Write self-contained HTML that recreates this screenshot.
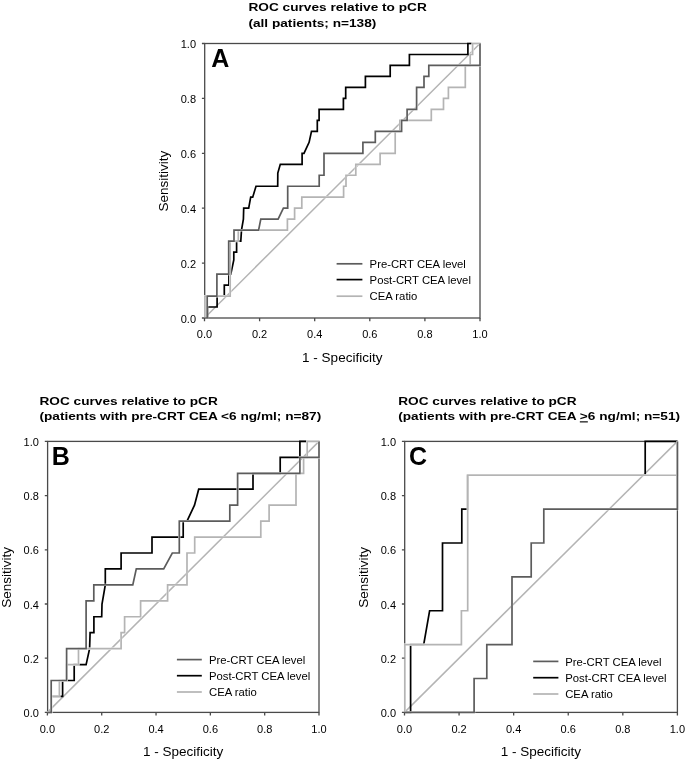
<!DOCTYPE html>
<html><head><meta charset="utf-8"><title>ROC curves</title><style>
html,body{margin:0;padding:0;background:#fff;overflow:hidden;width:685px;height:759px;}
svg{display:block;will-change:transform;}
text{font-family:"Liberation Sans", sans-serif;}
</style></head><body>
<svg width="685" height="759" viewBox="0 0 685 759">
<rect x="0" y="0" width="685" height="759" fill="#fff"/>
<g id="plotA">
<g transform="translate(248.4,0) scale(1.199,1)" font-weight="bold" font-size="11.4" fill="#000"><text x="0" y="11.0">ROC curves relative to pCR</text><text x="0" y="26.6">(all patients; n=138)</text></g>
<rect x="204.70" y="43.50" width="275.30" height="274.50" fill="none" stroke="#4a4a4a" stroke-width="1.3"/>
<g font-size="11" fill="#000"><text x="196.00" y="322.50" text-anchor="end">0.0</text><text x="204.50" y="338.10" text-anchor="middle">0.0</text><text x="196.00" y="267.60" text-anchor="end">0.2</text><text x="259.60" y="338.10" text-anchor="middle">0.2</text><text x="196.00" y="212.70" text-anchor="end">0.4</text><text x="314.70" y="338.10" text-anchor="middle">0.4</text><text x="196.00" y="157.80" text-anchor="end">0.6</text><text x="369.80" y="338.10" text-anchor="middle">0.6</text><text x="196.00" y="102.90" text-anchor="end">0.8</text><text x="424.90" y="338.10" text-anchor="middle">0.8</text><text x="196.00" y="48.00" text-anchor="end">1.0</text><text x="480.00" y="338.10" text-anchor="middle">1.0</text></g>
<text x="342.25" y="361.60" text-anchor="middle" font-size="13.5" fill="#000">1 - Specificity</text>
<text transform="translate(167.90,181.15) rotate(-90)" x="0" y="0" text-anchor="middle" font-size="13.5" fill="#000">Sensitivity</text>
<path d="M204.5,318.0L480.0,43.5" stroke="#b4b4b4" stroke-width="1.5" fill="none"/>
<polyline points="204.50,318.00 207.50,318.00 207.50,307.02 217.10,307.02 217.10,296.04 224.30,296.04 224.30,285.06 228.90,285.06 228.90,274.08 230.80,274.08 233.80,259.81 233.80,252.12 236.60,252.12 236.60,241.14 240.80,241.14 241.50,230.16 243.40,219.18 243.70,208.20 248.70,208.20 250.70,197.22 252.70,197.22 256.00,186.24 277.70,186.24 277.80,173.06 280.30,164.28 302.10,164.28 302.10,153.30 304.00,153.30 305.00,151.10 309.10,142.32 311.50,131.34 317.30,131.34 317.30,120.36 319.10,120.36 319.10,109.38 343.40,109.38 343.40,98.40 345.70,98.40 345.70,87.42 365.40,87.42 365.40,76.44 390.20,76.44 390.20,65.46 409.40,65.46 409.40,54.48 467.90,54.48 467.90,43.50 471.60,43.50" fill="none" stroke="#000" stroke-width="1.7" stroke-linejoin="miter"/>
<polyline points="204.50,318.00 204.90,318.00 204.90,296.04 230.20,296.04 230.20,241.14 238.30,241.14 238.30,230.16 287.40,230.16 287.40,219.18 294.60,219.18 294.60,208.20 301.80,208.20 301.80,197.22 343.60,197.22 343.60,186.24 346.00,186.24 346.00,175.26 355.80,175.26 355.80,164.28 380.10,164.28 380.10,153.30 395.20,153.30 395.20,131.34 399.90,131.34 399.90,120.36 431.30,120.36 431.30,109.38 443.50,109.38 443.50,98.40 448.40,98.40 448.40,87.42 465.30,87.42 465.30,65.46 470.20,65.46 470.20,54.48 472.60,54.48 472.60,43.50 480.00,43.50" fill="none" stroke="#fff" stroke-width="2.2" stroke-linejoin="miter"/>
<polyline points="204.50,318.00 204.90,318.00 204.90,296.04 230.20,296.04 230.20,241.14 238.30,241.14 238.30,230.16 287.40,230.16 287.40,219.18 294.60,219.18 294.60,208.20 301.80,208.20 301.80,197.22 343.60,197.22 343.60,186.24 346.00,186.24 346.00,175.26 355.80,175.26 355.80,164.28 380.10,164.28 380.10,153.30 395.20,153.30 395.20,131.34 399.90,131.34 399.90,120.36 431.30,120.36 431.30,109.38 443.50,109.38 443.50,98.40 448.40,98.40 448.40,87.42 465.30,87.42 465.30,65.46 470.20,65.46 470.20,54.48 472.60,54.48 472.60,43.50 480.00,43.50" fill="none" stroke="#b4b4b4" stroke-width="1.7" stroke-linejoin="miter"/>
<polyline points="204.50,318.00 207.20,318.00 207.20,296.04 216.90,296.04 216.90,274.08 228.70,274.08 228.70,241.14 234.00,241.14 234.00,230.16 258.60,230.16 260.80,219.18 278.10,219.18 283.40,208.20 287.70,208.20 287.70,186.24 319.20,186.24 319.20,175.26 324.00,175.26 324.00,153.30 362.90,153.30 362.90,142.32 375.30,142.32 375.30,131.34 401.60,131.34 401.60,120.36 407.10,120.36 407.10,109.38 416.60,109.38 416.60,87.42 424.00,87.42 424.00,76.44 428.80,76.44 428.80,65.46 480.00,65.46 480.00,43.50" fill="none" stroke="#fff" stroke-width="2.2" stroke-linejoin="miter"/>
<polyline points="204.50,318.00 207.20,318.00 207.20,296.04 216.90,296.04 216.90,274.08 228.70,274.08 228.70,241.14 234.00,241.14 234.00,230.16 258.60,230.16 260.80,219.18 278.10,219.18 283.40,208.20 287.70,208.20 287.70,186.24 319.20,186.24 319.20,175.26 324.00,175.26 324.00,153.30 362.90,153.30 362.90,142.32 375.30,142.32 375.30,131.34 401.60,131.34 401.60,120.36 407.10,120.36 407.10,109.38 416.60,109.38 416.60,87.42 424.00,87.42 424.00,76.44 428.80,76.44 428.80,65.46 480.00,65.46 480.00,43.50" fill="none" stroke="#5c5c5c" stroke-width="1.7" stroke-linejoin="miter"/>
<path d="M201.90,318.00H204.50M204.50,318.00V321.20M201.90,263.10H204.50M259.60,318.00V321.20M201.90,208.20H204.50M314.70,318.00V321.20M201.90,153.30H204.50M369.80,318.00V321.20M201.90,98.40H204.50M424.90,318.00V321.20M201.90,43.50H204.50M480.00,318.00V321.20" stroke="#4a4a4a" stroke-width="1.3" fill="none"/>
<text x="211.20" y="67.00" font-size="25" font-weight="bold" fill="#000">A</text>
<path d="M336.6,263.8H362.4" stroke="#5c5c5c" stroke-width="1.7"/>
<text x="369.6" y="267.8" font-size="11.3" fill="#000">Pre-CRT CEA level</text>
<path d="M336.6,279.6H362.4" stroke="#000" stroke-width="1.7"/>
<text x="369.6" y="284.0" font-size="11.3" fill="#000">Post-CRT CEA level</text>
<path d="M336.6,296.2H362.4" stroke="#b4b4b4" stroke-width="1.7"/>
<text x="369.6" y="300.4" font-size="11.3" fill="#000">CEA ratio</text>
</g>
<g id="plotB">
<g transform="translate(39.4,0) scale(1.199,1)" font-weight="bold" font-size="11.4" fill="#000"><text x="0" y="405.0">ROC curves relative to pCR</text><text x="0" y="420.4">(patients with pre-CRT CEA &lt;6 ng/ml; n=87)</text></g>
<rect x="47.60" y="441.40" width="271.40" height="271.00" fill="none" stroke="#4a4a4a" stroke-width="1.3"/>
<g font-size="11" fill="#000"><text x="38.90" y="716.90" text-anchor="end">0.0</text><text x="47.40" y="732.50" text-anchor="middle">0.0</text><text x="38.90" y="662.70" text-anchor="end">0.2</text><text x="101.72" y="732.50" text-anchor="middle">0.2</text><text x="38.90" y="608.50" text-anchor="end">0.4</text><text x="156.04" y="732.50" text-anchor="middle">0.4</text><text x="38.90" y="554.30" text-anchor="end">0.6</text><text x="210.36" y="732.50" text-anchor="middle">0.6</text><text x="38.90" y="500.10" text-anchor="end">0.8</text><text x="264.68" y="732.50" text-anchor="middle">0.8</text><text x="38.90" y="445.90" text-anchor="end">1.0</text><text x="319.00" y="732.50" text-anchor="middle">1.0</text></g>
<text x="183.20" y="756.00" text-anchor="middle" font-size="13.5" fill="#000">1 - Specificity</text>
<text transform="translate(10.80,577.30) rotate(-90)" x="0" y="0" text-anchor="middle" font-size="13.5" fill="#000">Sensitivity</text>
<path d="M47.4,712.4L319.0,441.4" stroke="#b4b4b4" stroke-width="1.5" fill="none"/>
<polyline points="47.40,712.40 51.20,712.40 51.20,696.46 62.60,696.46 62.60,680.52 74.20,680.52 74.20,664.58 86.10,664.58 89.60,648.64 90.10,632.69 93.90,632.69 93.90,616.75 101.70,616.75 102.00,604.00 105.30,584.87 105.30,568.93 121.10,568.93 121.10,552.99 152.00,552.99 152.00,537.05 183.20,537.05 183.20,521.11 187.00,521.11 194.50,505.16 198.70,489.22 253.00,489.22 253.00,473.28 280.20,473.28 280.20,457.34 299.90,457.34 299.90,441.40 306.40,441.40" fill="none" stroke="#000" stroke-width="1.7" stroke-linejoin="miter"/>
<polyline points="47.40,712.40 51.20,712.40 51.20,696.46 59.40,696.46 59.40,680.52 66.60,680.52 66.60,664.58 78.50,664.58 78.50,648.64 121.10,648.64 121.10,632.69 124.60,632.69 124.60,616.75 140.60,616.75 140.60,600.81 167.60,600.81 167.60,584.87 187.00,584.87 187.00,552.99 194.70,552.99 194.70,537.05 260.80,537.05 260.80,521.11 269.10,521.11 269.10,505.16 296.00,505.16 296.00,473.28 303.60,473.28 303.60,457.34 307.20,457.34 307.20,441.40 319.00,441.40" fill="none" stroke="#fff" stroke-width="2.2" stroke-linejoin="miter"/>
<polyline points="47.40,712.40 51.20,712.40 51.20,696.46 59.40,696.46 59.40,680.52 66.60,680.52 66.60,664.58 78.50,664.58 78.50,648.64 121.10,648.64 121.10,632.69 124.60,632.69 124.60,616.75 140.60,616.75 140.60,600.81 167.60,600.81 167.60,584.87 187.00,584.87 187.00,552.99 194.70,552.99 194.70,537.05 260.80,537.05 260.80,521.11 269.10,521.11 269.10,505.16 296.00,505.16 296.00,473.28 303.60,473.28 303.60,457.34 307.20,457.34 307.20,441.40 319.00,441.40" fill="none" stroke="#b4b4b4" stroke-width="1.7" stroke-linejoin="miter"/>
<polyline points="47.40,712.40 51.20,712.40 51.20,680.52 66.60,680.52 66.60,648.64 86.10,648.64 86.10,600.81 93.80,600.81 93.80,584.87 132.80,584.87 136.30,568.93 163.70,568.93 172.30,552.99 179.30,552.99 179.30,521.11 229.80,521.11 229.80,505.16 237.60,505.16 237.60,473.28 299.90,473.28 299.90,457.34 319.00,457.34 319.00,441.40" fill="none" stroke="#fff" stroke-width="2.2" stroke-linejoin="miter"/>
<polyline points="47.40,712.40 51.20,712.40 51.20,680.52 66.60,680.52 66.60,648.64 86.10,648.64 86.10,600.81 93.80,600.81 93.80,584.87 132.80,584.87 136.30,568.93 163.70,568.93 172.30,552.99 179.30,552.99 179.30,521.11 229.80,521.11 229.80,505.16 237.60,505.16 237.60,473.28 299.90,473.28 299.90,457.34 319.00,457.34 319.00,441.40" fill="none" stroke="#5c5c5c" stroke-width="1.7" stroke-linejoin="miter"/>
<path d="M44.80,712.40H47.40M47.40,712.40V715.60M44.80,658.20H47.40M101.72,712.40V715.60M44.80,604.00H47.40M156.04,712.40V715.60M44.80,549.80H47.40M210.36,712.40V715.60M44.80,495.60H47.40M264.68,712.40V715.60M44.80,441.40H47.40M319.00,712.40V715.60" stroke="#4a4a4a" stroke-width="1.3" fill="none"/>
<text x="51.70" y="464.90" font-size="25" font-weight="bold" fill="#000">B</text>
<path d="M176.9,659.6H201.8" stroke="#5c5c5c" stroke-width="1.7"/>
<text x="209.0" y="663.7" font-size="11.3" fill="#000">Pre-CRT CEA level</text>
<path d="M176.9,675.7H201.8" stroke="#000" stroke-width="1.7"/>
<text x="209.0" y="679.7" font-size="11.3" fill="#000">Post-CRT CEA level</text>
<path d="M176.9,692.0H201.8" stroke="#b4b4b4" stroke-width="1.7"/>
<text x="209.0" y="696.0" font-size="11.3" fill="#000">CEA ratio</text>
</g>
<g id="plotC">
<g transform="translate(398.2,0) scale(1.199,1)" font-weight="bold" font-size="11.4" fill="#000"><text x="0" y="405.0">ROC curves relative to pCR</text><text x="0" y="420.4">(patients with pre-CRT CEA <tspan text-decoration="underline">&gt;</tspan>6 ng/ml; n=51)</text></g>
<rect x="404.70" y="441.40" width="272.70" height="271.00" fill="none" stroke="#4a4a4a" stroke-width="1.3"/>
<g font-size="11" fill="#000"><text x="396.00" y="716.90" text-anchor="end">0.0</text><text x="404.50" y="732.50" text-anchor="middle">0.0</text><text x="396.00" y="662.70" text-anchor="end">0.2</text><text x="459.08" y="732.50" text-anchor="middle">0.2</text><text x="396.00" y="608.50" text-anchor="end">0.4</text><text x="513.66" y="732.50" text-anchor="middle">0.4</text><text x="396.00" y="554.30" text-anchor="end">0.6</text><text x="568.24" y="732.50" text-anchor="middle">0.6</text><text x="396.00" y="500.10" text-anchor="end">0.8</text><text x="622.82" y="732.50" text-anchor="middle">0.8</text><text x="396.00" y="445.90" text-anchor="end">1.0</text><text x="677.40" y="732.50" text-anchor="middle">1.0</text></g>
<text x="540.95" y="756.00" text-anchor="middle" font-size="13.5" fill="#000">1 - Specificity</text>
<text transform="translate(367.90,577.30) rotate(-90)" x="0" y="0" text-anchor="middle" font-size="13.5" fill="#000">Sensitivity</text>
<path d="M404.5,712.4L677.4,441.4" stroke="#b4b4b4" stroke-width="1.5" fill="none"/>
<polyline points="404.50,712.40 410.60,712.40 410.60,644.65 423.70,644.65 429.60,610.77 442.50,610.77 442.50,543.02 461.80,543.02 461.80,509.15 467.70,509.15 467.70,475.27 645.20,475.27 645.20,441.40 677.40,441.40" fill="none" stroke="#000" stroke-width="1.7" stroke-linejoin="miter"/>
<polyline points="404.50,712.40 404.80,712.40 404.80,644.65 461.40,644.65 461.40,610.77 467.70,610.77 467.70,475.27 677.40,475.27 677.40,441.40" fill="none" stroke="#fff" stroke-width="2.2" stroke-linejoin="miter"/>
<polyline points="404.50,712.40 404.80,712.40 404.80,644.65 461.40,644.65 461.40,610.77 467.70,610.77 467.70,475.27 677.40,475.27 677.40,441.40" fill="none" stroke="#b4b4b4" stroke-width="1.7" stroke-linejoin="miter"/>
<polyline points="404.50,712.40 474.10,712.40 474.10,678.52 486.80,678.52 486.80,644.65 512.00,644.65 512.00,576.90 531.20,576.90 531.20,543.02 543.80,543.02 543.80,509.15 677.40,509.15 677.40,441.40" fill="none" stroke="#fff" stroke-width="2.2" stroke-linejoin="miter"/>
<polyline points="404.50,712.40 474.10,712.40 474.10,678.52 486.80,678.52 486.80,644.65 512.00,644.65 512.00,576.90 531.20,576.90 531.20,543.02 543.80,543.02 543.80,509.15 677.40,509.15 677.40,441.40" fill="none" stroke="#5c5c5c" stroke-width="1.7" stroke-linejoin="miter"/>
<path d="M401.90,712.40H404.50M404.50,712.40V715.60M401.90,658.20H404.50M459.08,712.40V715.60M401.90,604.00H404.50M513.66,712.40V715.60M401.90,549.80H404.50M568.24,712.40V715.60M401.90,495.60H404.50M622.82,712.40V715.60M401.90,441.40H404.50M677.40,712.40V715.60" stroke="#4a4a4a" stroke-width="1.3" fill="none"/>
<text x="409.00" y="464.90" font-size="25" font-weight="bold" fill="#000">C</text>
<path d="M533.2,661.4H558.4" stroke="#5c5c5c" stroke-width="1.7"/>
<text x="565.2" y="665.6" font-size="11.3" fill="#000">Pre-CRT CEA level</text>
<path d="M533.2,677.7H558.4" stroke="#000" stroke-width="1.7"/>
<text x="565.2" y="681.7" font-size="11.3" fill="#000">Post-CRT CEA level</text>
<path d="M533.2,694.0H558.4" stroke="#b4b4b4" stroke-width="1.7"/>
<text x="565.2" y="697.8" font-size="11.3" fill="#000">CEA ratio</text>
</g>
</svg>
</body></html>
